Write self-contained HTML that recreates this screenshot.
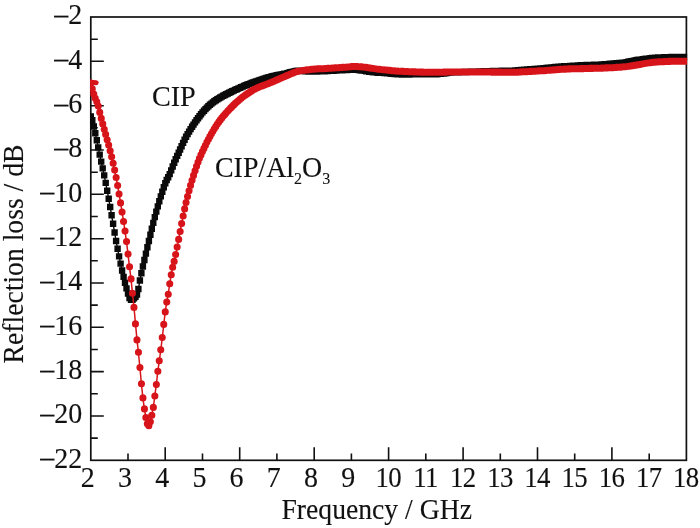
<!DOCTYPE html>
<html><head><meta charset="utf-8"><title>Reflection loss</title>
<style>
html,body{margin:0;padding:0;background:#fff;}
svg{display:block;}
text{font-family:"Liberation Serif","Times New Roman",serif;fill:#111;}
</style></head><body>
<svg width="700" height="528" viewBox="0 0 700 528">
<rect width="700" height="528" fill="#fff"/>
<clipPath id="clip"><rect x="90.05" y="17.0" width="597.1" height="443.3"/></clipPath>
<rect x="90.8" y="17.0" width="595.6" height="443.3" fill="none" stroke="#111" stroke-width="1.7"/>
<path d="M128.0,460.3v-6.7M165.2,460.3v-13M202.5,460.3v-6.7M239.7,460.3v-13M276.9,460.3v-6.7M314.2,460.3v-13M351.4,460.3v-6.7M388.6,460.3v-13M425.8,460.3v-6.7M463.1,460.3v-13M500.3,460.3v-6.7M537.5,460.3v-13M574.7,460.3v-6.7M611.9,460.3v-13M649.2,460.3v-6.7M90.8,39.2h7M90.8,61.3h13M90.8,83.5h7M90.8,105.7h13M90.8,127.8h7M90.8,150.0h13M90.8,172.2h7M90.8,194.3h13M90.8,216.5h7M90.8,238.7h13M90.8,260.8h7M90.8,283.0h13M90.8,305.1h7M90.8,327.3h13M90.8,349.5h7M90.8,371.6h13M90.8,393.8h7M90.8,416.0h13M90.8,438.1h7" fill="none" stroke="#111" stroke-width="1.6"/>
<g id="cip" clip-path="url(#clip)">
<path d="M90.8,116.4 92.3,120.3 93.8,126.5 95.3,133.2 96.8,140.2 98.2,147.4 99.7,154.6 101.2,161.6 102.7,168.4 104.2,175.4 105.7,182.9 107.2,190.7 108.7,198.8 110.2,207.0 111.6,215.3 113.1,223.7 114.6,232.5 116.1,241.0 117.6,248.8 119.1,256.4 120.6,263.6 122.1,270.5 123.6,276.9 125.0,282.9 126.5,288.4 128.0,293.6 129.5,298.0 131.0,299.7 132.5,299.7 134.0,298.4 135.5,296.8 137.0,294.6 138.4,289.0 139.9,280.5 141.4,273.2 142.9,266.5 144.4,260.0 145.9,253.6 147.4,247.3 148.9,241.0 150.4,234.8 151.8,228.8 153.3,222.9 154.8,217.1 156.3,211.6 157.8,206.4 159.3,201.3 160.8,196.4 162.3,191.7 163.8,187.3 165.2,183.3 166.7,180.0 168.2,177.2 169.7,174.1 171.2,170.4 172.7,166.5 174.2,162.7 175.7,159.2 177.2,155.9 178.7,152.8 180.1,149.5 181.6,146.2 183.1,142.9 184.6,139.8 186.1,136.8 187.6,134.1 189.1,131.6 190.6,129.1 192.1,126.8 193.5,124.6 195.0,122.4 196.5,120.3 198.0,118.2 199.5,116.2 201.0,114.2 202.5,112.4 204.0,110.7 205.5,109.1 206.9,107.6 208.4,106.2 209.9,104.8 211.4,103.6 212.9,102.4 214.4,101.3 215.9,100.3 217.4,99.3 218.9,98.4 220.3,97.5 221.8,96.6 223.3,95.8 224.8,95.0 226.3,94.2 227.8,93.5 229.3,92.7 230.8,92.0 232.3,91.3 233.7,90.6 235.2,89.9 236.7,89.2 238.2,88.6 239.7,87.9 241.2,87.2 242.7,86.6 244.2,85.9 245.7,85.3 247.1,84.7 248.6,84.1 250.1,83.6 251.6,83.0 253.1,82.5 254.6,81.9 256.1,81.4 257.6,80.9 259.1,80.4 260.5,79.9 262.0,79.4 263.5,78.9 265.0,78.4 266.5,78.0 268.0,77.5 269.5,77.1 271.0,76.7 272.5,76.3 273.9,76.0 275.4,75.6 276.9,75.3 278.4,75.0 279.9,74.7 281.4,74.4 282.9,74.1 284.4,73.8 285.9,73.6 287.3,73.1 288.8,72.7 290.3,72.3 291.8,71.9 293.3,71.6 294.8,71.3 296.3,71.0 297.8,70.8 299.3,70.7 300.7,70.7 302.2,70.9 303.7,71.1 305.2,71.3 306.7,71.4 308.2,71.5 309.7,71.5 311.2,71.6 312.7,71.6 314.2,71.6 315.6,71.5 317.1,71.5 318.6,71.4 320.1,71.4 321.6,71.3 323.1,71.3 324.6,71.2 326.1,71.1 327.6,71.0 329.0,70.9 330.5,70.8 332.0,70.7 333.5,70.7 335.0,70.6 336.5,70.5 338.0,70.4 339.5,70.4 341.0,70.3 342.4,70.2 343.9,70.1 345.4,70.0 346.9,70.0 348.4,69.9 349.9,69.7 351.4,69.6 352.9,69.6 354.4,69.7 355.8,69.8 357.3,69.9 358.8,70.1 360.3,70.3 361.8,70.5 363.3,70.6 364.8,70.9 366.3,71.2 367.8,71.4 369.2,71.7 370.7,71.9 372.2,72.1 373.7,72.3 375.2,72.4 376.7,72.5 378.2,72.7 379.7,72.8 381.2,72.8 382.6,72.9 384.1,73.0 385.6,73.1 387.1,73.2 388.6,73.4 390.1,73.5 391.6,73.7 393.1,73.9 394.6,74.0 396.0,74.1 397.5,74.2 399.0,74.3 400.5,74.4 402.0,74.5 403.5,74.6 405.0,74.6 406.5,74.6 408.0,74.5 409.4,74.5 410.9,74.4 412.4,74.4 413.9,74.3 415.4,74.3 416.9,74.3 418.4,74.3 419.9,74.3 421.4,74.3 422.8,74.3 424.3,74.3 425.8,74.4 427.3,74.4 428.8,74.4 430.3,74.4 431.8,74.3 433.3,74.3 434.8,74.3 436.2,74.2 437.7,74.1 439.2,73.9 440.7,73.8 442.2,73.6 443.7,73.5 445.2,73.3 446.7,73.0 448.2,72.8 449.6,72.6 451.1,72.5 452.6,72.4 454.1,72.3 455.6,72.3 457.1,72.2 458.6,72.2 460.1,72.1 461.6,72.1 463.1,72.1 464.5,72.0 466.0,72.0 467.5,71.9 469.0,71.9 470.5,71.8 472.0,71.8 473.5,71.7 475.0,71.7 476.5,71.6 477.9,71.6 479.4,71.5 480.9,71.5 482.4,71.4 483.9,71.3 485.4,71.3 486.9,71.2 488.4,71.2 489.9,71.1 491.3,71.1 492.8,71.0 494.3,71.0 495.8,70.9 497.3,70.9 498.8,70.9 500.3,70.9 501.8,70.8 503.3,70.8 504.7,70.8 506.2,70.8 507.7,70.8 509.2,70.8 510.7,70.7 512.2,70.7 513.7,70.6 515.2,70.5 516.7,70.4 518.1,70.3 519.6,70.2 521.1,70.0 522.6,69.9 524.1,69.7 525.6,69.6 527.1,69.5 528.6,69.4 530.1,69.3 531.5,69.2 533.0,69.1 534.5,69.0 536.0,68.9 537.5,68.7 539.0,68.6 540.5,68.5 542.0,68.4 543.5,68.3 544.9,68.1 546.4,68.0 547.9,67.8 549.4,67.7 550.9,67.5 552.4,67.4 553.9,67.2 555.4,67.0 556.9,66.9 558.3,66.8 559.8,66.6 561.3,66.5 562.8,66.4 564.3,66.3 565.8,66.2 567.3,66.1 568.8,66.1 570.3,66.0 571.7,65.9 573.2,65.8 574.7,65.7 576.2,65.6 577.7,65.5 579.2,65.4 580.7,65.3 582.2,65.2 583.7,65.1 585.1,65.1 586.6,65.0 588.1,65.0 589.6,64.9 591.1,64.9 592.6,64.9 594.1,64.8 595.6,64.8 597.1,64.7 598.5,64.6 600.0,64.6 601.5,64.5 603.0,64.4 604.5,64.3 606.0,64.2 607.5,64.1 609.0,63.9 610.5,63.8 612.0,63.7 613.4,63.5 614.9,63.4 616.4,63.3 617.9,63.2 619.4,63.0 620.9,62.9 622.4,62.7 623.9,62.6 625.4,62.4 626.8,62.1 628.3,61.8 629.8,61.5 631.3,61.2 632.8,60.9 634.3,60.6 635.8,60.3 637.3,60.0 638.8,59.8 640.2,59.6 641.7,59.4 643.2,59.2 644.7,59.0 646.2,58.8 647.7,58.6 649.2,58.4 650.7,58.2 652.2,58.0 653.6,57.9 655.1,57.7 656.6,57.6 658.1,57.5 659.6,57.5 661.1,57.4 662.6,57.4 664.1,57.3 665.6,57.2 667.0,57.2 668.5,57.1 670.0,57.1 671.5,57.0 673.0,57.0 674.5,57.0 676.0,57.0 677.5,57.0 679.0,57.0 680.4,57.0 681.9,57.0 683.4,57.0 684.9,57.0 686.4,57.0" fill="none" stroke="#0a0a0a" stroke-width="1.4"/>
<path d="M87.6,113.2h6.4v6.4h-6.4zM89.1,117.1h6.4v6.4h-6.4zM90.6,123.3h6.4v6.4h-6.4zM92.1,130.0h6.4v6.4h-6.4zM93.6,137.0h6.4v6.4h-6.4zM95.0,144.2h6.4v6.4h-6.4zM96.5,151.4h6.4v6.4h-6.4zM98.0,158.4h6.4v6.4h-6.4zM99.5,165.2h6.4v6.4h-6.4zM101.0,172.2h6.4v6.4h-6.4zM102.5,179.7h6.4v6.4h-6.4zM104.0,187.5h6.4v6.4h-6.4zM105.5,195.6h6.4v6.4h-6.4zM107.0,203.8h6.4v6.4h-6.4zM108.4,212.1h6.4v6.4h-6.4zM109.9,220.5h6.4v6.4h-6.4zM111.4,229.3h6.4v6.4h-6.4zM112.9,237.8h6.4v6.4h-6.4zM114.4,245.6h6.4v6.4h-6.4zM115.9,253.2h6.4v6.4h-6.4zM117.4,260.4h6.4v6.4h-6.4zM118.9,267.3h6.4v6.4h-6.4zM120.4,273.7h6.4v6.4h-6.4zM121.8,279.7h6.4v6.4h-6.4zM123.3,285.2h6.4v6.4h-6.4zM124.8,290.4h6.4v6.4h-6.4zM126.3,294.8h6.4v6.4h-6.4zM127.8,296.5h6.4v6.4h-6.4zM129.3,296.5h6.4v6.4h-6.4zM130.8,295.2h6.4v6.4h-6.4zM132.3,293.6h6.4v6.4h-6.4zM133.8,291.4h6.4v6.4h-6.4zM135.2,285.8h6.4v6.4h-6.4zM136.7,277.3h6.4v6.4h-6.4zM138.2,270.0h6.4v6.4h-6.4zM139.7,263.3h6.4v6.4h-6.4zM141.2,256.8h6.4v6.4h-6.4zM142.7,250.4h6.4v6.4h-6.4zM144.2,244.1h6.4v6.4h-6.4zM145.7,237.8h6.4v6.4h-6.4zM147.2,231.6h6.4v6.4h-6.4zM148.6,225.6h6.4v6.4h-6.4zM150.1,219.7h6.4v6.4h-6.4zM151.6,213.9h6.4v6.4h-6.4zM153.1,208.4h6.4v6.4h-6.4zM154.6,203.2h6.4v6.4h-6.4zM156.1,198.1h6.4v6.4h-6.4zM157.6,193.2h6.4v6.4h-6.4zM159.1,188.5h6.4v6.4h-6.4zM160.6,184.1h6.4v6.4h-6.4zM162.1,180.1h6.4v6.4h-6.4zM163.5,176.8h6.4v6.4h-6.4zM165.0,174.0h6.4v6.4h-6.4zM166.5,170.9h6.4v6.4h-6.4zM168.0,167.2h6.4v6.4h-6.4zM169.5,163.3h6.4v6.4h-6.4zM171.0,159.5h6.4v6.4h-6.4zM172.5,156.0h6.4v6.4h-6.4zM174.0,152.7h6.4v6.4h-6.4zM175.5,149.6h6.4v6.4h-6.4zM176.9,146.3h6.4v6.4h-6.4zM178.4,143.0h6.4v6.4h-6.4zM179.9,139.7h6.4v6.4h-6.4zM181.4,136.6h6.4v6.4h-6.4zM182.9,133.6h6.4v6.4h-6.4zM184.4,130.9h6.4v6.4h-6.4zM185.9,128.4h6.4v6.4h-6.4zM187.4,125.9h6.4v6.4h-6.4zM188.9,123.6h6.4v6.4h-6.4zM190.3,121.4h6.4v6.4h-6.4zM191.8,119.2h6.4v6.4h-6.4zM193.3,117.1h6.4v6.4h-6.4zM194.8,115.0h6.4v6.4h-6.4zM196.3,113.0h6.4v6.4h-6.4zM197.8,111.0h6.4v6.4h-6.4zM199.3,109.2h6.4v6.4h-6.4zM200.8,107.5h6.4v6.4h-6.4zM202.3,105.9h6.4v6.4h-6.4zM203.7,104.4h6.4v6.4h-6.4zM205.2,103.0h6.4v6.4h-6.4zM206.7,101.6h6.4v6.4h-6.4zM208.2,100.4h6.4v6.4h-6.4zM209.7,99.2h6.4v6.4h-6.4zM211.2,98.1h6.4v6.4h-6.4zM212.7,97.1h6.4v6.4h-6.4zM214.2,96.1h6.4v6.4h-6.4zM215.7,95.2h6.4v6.4h-6.4zM217.1,94.3h6.4v6.4h-6.4zM218.6,93.4h6.4v6.4h-6.4zM220.1,92.6h6.4v6.4h-6.4zM221.6,91.8h6.4v6.4h-6.4zM223.1,91.0h6.4v6.4h-6.4zM224.6,90.3h6.4v6.4h-6.4zM226.1,89.5h6.4v6.4h-6.4zM227.6,88.8h6.4v6.4h-6.4zM229.1,88.1h6.4v6.4h-6.4zM230.5,87.4h6.4v6.4h-6.4zM232.0,86.7h6.4v6.4h-6.4zM233.5,86.0h6.4v6.4h-6.4zM235.0,85.4h6.4v6.4h-6.4zM236.5,84.7h6.4v6.4h-6.4zM238.0,84.0h6.4v6.4h-6.4zM239.5,83.4h6.4v6.4h-6.4zM241.0,82.7h6.4v6.4h-6.4zM242.5,82.1h6.4v6.4h-6.4zM243.9,81.5h6.4v6.4h-6.4zM245.4,80.9h6.4v6.4h-6.4zM246.9,80.4h6.4v6.4h-6.4zM248.4,79.8h6.4v6.4h-6.4zM249.9,79.3h6.4v6.4h-6.4zM251.4,78.7h6.4v6.4h-6.4zM252.9,78.2h6.4v6.4h-6.4zM254.4,77.7h6.4v6.4h-6.4zM255.9,77.2h6.4v6.4h-6.4zM257.3,76.7h6.4v6.4h-6.4zM258.8,76.2h6.4v6.4h-6.4zM260.3,75.7h6.4v6.4h-6.4zM261.8,75.2h6.4v6.4h-6.4zM263.3,74.8h6.4v6.4h-6.4zM264.8,74.3h6.4v6.4h-6.4zM266.3,73.9h6.4v6.4h-6.4zM267.8,73.5h6.4v6.4h-6.4zM269.3,73.1h6.4v6.4h-6.4zM270.7,72.8h6.4v6.4h-6.4zM272.2,72.4h6.4v6.4h-6.4zM273.7,72.1h6.4v6.4h-6.4zM275.2,71.8h6.4v6.4h-6.4zM276.7,71.5h6.4v6.4h-6.4zM278.2,71.2h6.4v6.4h-6.4zM279.7,70.9h6.4v6.4h-6.4zM281.2,70.6h6.4v6.4h-6.4zM282.7,70.4h6.4v6.4h-6.4zM284.1,69.9h6.4v6.4h-6.4zM285.6,69.5h6.4v6.4h-6.4zM287.1,69.1h6.4v6.4h-6.4zM288.6,68.7h6.4v6.4h-6.4zM290.1,68.4h6.4v6.4h-6.4zM291.6,68.1h6.4v6.4h-6.4zM293.1,67.8h6.4v6.4h-6.4zM294.6,67.6h6.4v6.4h-6.4zM296.1,67.5h6.4v6.4h-6.4zM297.5,67.5h6.4v6.4h-6.4zM299.0,67.7h6.4v6.4h-6.4zM300.5,67.9h6.4v6.4h-6.4zM302.0,68.1h6.4v6.4h-6.4zM303.5,68.2h6.4v6.4h-6.4zM305.0,68.3h6.4v6.4h-6.4zM306.5,68.3h6.4v6.4h-6.4zM308.0,68.4h6.4v6.4h-6.4zM309.5,68.4h6.4v6.4h-6.4zM311.0,68.4h6.4v6.4h-6.4zM312.4,68.3h6.4v6.4h-6.4zM313.9,68.3h6.4v6.4h-6.4zM315.4,68.2h6.4v6.4h-6.4zM316.9,68.2h6.4v6.4h-6.4zM318.4,68.1h6.4v6.4h-6.4zM319.9,68.1h6.4v6.4h-6.4zM321.4,68.0h6.4v6.4h-6.4zM322.9,67.9h6.4v6.4h-6.4zM324.4,67.8h6.4v6.4h-6.4zM325.8,67.7h6.4v6.4h-6.4zM327.3,67.6h6.4v6.4h-6.4zM328.8,67.5h6.4v6.4h-6.4zM330.3,67.5h6.4v6.4h-6.4zM331.8,67.4h6.4v6.4h-6.4zM333.3,67.3h6.4v6.4h-6.4zM334.8,67.2h6.4v6.4h-6.4zM336.3,67.2h6.4v6.4h-6.4zM337.8,67.1h6.4v6.4h-6.4zM339.2,67.0h6.4v6.4h-6.4zM340.7,66.9h6.4v6.4h-6.4zM342.2,66.8h6.4v6.4h-6.4zM343.7,66.8h6.4v6.4h-6.4zM345.2,66.7h6.4v6.4h-6.4zM346.7,66.5h6.4v6.4h-6.4zM348.2,66.4h6.4v6.4h-6.4zM349.7,66.4h6.4v6.4h-6.4zM351.2,66.5h6.4v6.4h-6.4zM352.6,66.6h6.4v6.4h-6.4zM354.1,66.7h6.4v6.4h-6.4zM355.6,66.9h6.4v6.4h-6.4zM357.1,67.1h6.4v6.4h-6.4zM358.6,67.3h6.4v6.4h-6.4zM360.1,67.4h6.4v6.4h-6.4zM361.6,67.7h6.4v6.4h-6.4zM363.1,68.0h6.4v6.4h-6.4zM364.6,68.2h6.4v6.4h-6.4zM366.0,68.5h6.4v6.4h-6.4zM367.5,68.7h6.4v6.4h-6.4zM369.0,68.9h6.4v6.4h-6.4zM370.5,69.1h6.4v6.4h-6.4zM372.0,69.2h6.4v6.4h-6.4zM373.5,69.3h6.4v6.4h-6.4zM375.0,69.5h6.4v6.4h-6.4zM376.5,69.6h6.4v6.4h-6.4zM378.0,69.6h6.4v6.4h-6.4zM379.4,69.7h6.4v6.4h-6.4zM380.9,69.8h6.4v6.4h-6.4zM382.4,69.9h6.4v6.4h-6.4zM383.9,70.0h6.4v6.4h-6.4zM385.4,70.2h6.4v6.4h-6.4zM386.9,70.3h6.4v6.4h-6.4zM388.4,70.5h6.4v6.4h-6.4zM389.9,70.7h6.4v6.4h-6.4zM391.4,70.8h6.4v6.4h-6.4zM392.8,70.9h6.4v6.4h-6.4zM394.3,71.0h6.4v6.4h-6.4zM395.8,71.1h6.4v6.4h-6.4zM397.3,71.2h6.4v6.4h-6.4zM398.8,71.3h6.4v6.4h-6.4zM400.3,71.4h6.4v6.4h-6.4zM401.8,71.4h6.4v6.4h-6.4zM403.3,71.4h6.4v6.4h-6.4zM404.8,71.3h6.4v6.4h-6.4zM406.2,71.3h6.4v6.4h-6.4zM407.7,71.2h6.4v6.4h-6.4zM409.2,71.2h6.4v6.4h-6.4zM410.7,71.1h6.4v6.4h-6.4zM412.2,71.1h6.4v6.4h-6.4zM413.7,71.1h6.4v6.4h-6.4zM415.2,71.1h6.4v6.4h-6.4zM416.7,71.1h6.4v6.4h-6.4zM418.2,71.1h6.4v6.4h-6.4zM419.6,71.1h6.4v6.4h-6.4zM421.1,71.1h6.4v6.4h-6.4zM422.6,71.2h6.4v6.4h-6.4zM424.1,71.2h6.4v6.4h-6.4zM425.6,71.2h6.4v6.4h-6.4zM427.1,71.2h6.4v6.4h-6.4zM428.6,71.1h6.4v6.4h-6.4zM430.1,71.1h6.4v6.4h-6.4zM431.6,71.1h6.4v6.4h-6.4zM433.0,71.0h6.4v6.4h-6.4zM434.5,70.9h6.4v6.4h-6.4zM436.0,70.7h6.4v6.4h-6.4zM437.5,70.6h6.4v6.4h-6.4zM439.0,70.4h6.4v6.4h-6.4zM440.5,70.3h6.4v6.4h-6.4zM442.0,70.1h6.4v6.4h-6.4zM443.5,69.8h6.4v6.4h-6.4zM445.0,69.6h6.4v6.4h-6.4zM446.4,69.4h6.4v6.4h-6.4zM447.9,69.3h6.4v6.4h-6.4zM449.4,69.2h6.4v6.4h-6.4zM450.9,69.1h6.4v6.4h-6.4zM452.4,69.1h6.4v6.4h-6.4zM453.9,69.0h6.4v6.4h-6.4zM455.4,69.0h6.4v6.4h-6.4zM456.9,68.9h6.4v6.4h-6.4zM458.4,68.9h6.4v6.4h-6.4zM459.9,68.9h6.4v6.4h-6.4zM461.3,68.8h6.4v6.4h-6.4zM462.8,68.8h6.4v6.4h-6.4zM464.3,68.7h6.4v6.4h-6.4zM465.8,68.7h6.4v6.4h-6.4zM467.3,68.6h6.4v6.4h-6.4zM468.8,68.6h6.4v6.4h-6.4zM470.3,68.5h6.4v6.4h-6.4zM471.8,68.5h6.4v6.4h-6.4zM473.3,68.4h6.4v6.4h-6.4zM474.7,68.4h6.4v6.4h-6.4zM476.2,68.3h6.4v6.4h-6.4zM477.7,68.3h6.4v6.4h-6.4zM479.2,68.2h6.4v6.4h-6.4zM480.7,68.1h6.4v6.4h-6.4zM482.2,68.1h6.4v6.4h-6.4zM483.7,68.0h6.4v6.4h-6.4zM485.2,68.0h6.4v6.4h-6.4zM486.7,67.9h6.4v6.4h-6.4zM488.1,67.9h6.4v6.4h-6.4zM489.6,67.8h6.4v6.4h-6.4zM491.1,67.8h6.4v6.4h-6.4zM492.6,67.7h6.4v6.4h-6.4zM494.1,67.7h6.4v6.4h-6.4zM495.6,67.7h6.4v6.4h-6.4zM497.1,67.7h6.4v6.4h-6.4zM498.6,67.6h6.4v6.4h-6.4zM500.1,67.6h6.4v6.4h-6.4zM501.5,67.6h6.4v6.4h-6.4zM503.0,67.6h6.4v6.4h-6.4zM504.5,67.6h6.4v6.4h-6.4zM506.0,67.6h6.4v6.4h-6.4zM507.5,67.5h6.4v6.4h-6.4zM509.0,67.5h6.4v6.4h-6.4zM510.5,67.4h6.4v6.4h-6.4zM512.0,67.3h6.4v6.4h-6.4zM513.5,67.2h6.4v6.4h-6.4zM514.9,67.1h6.4v6.4h-6.4zM516.4,67.0h6.4v6.4h-6.4zM517.9,66.8h6.4v6.4h-6.4zM519.4,66.7h6.4v6.4h-6.4zM520.9,66.5h6.4v6.4h-6.4zM522.4,66.4h6.4v6.4h-6.4zM523.9,66.3h6.4v6.4h-6.4zM525.4,66.2h6.4v6.4h-6.4zM526.9,66.1h6.4v6.4h-6.4zM528.3,66.0h6.4v6.4h-6.4zM529.8,65.9h6.4v6.4h-6.4zM531.3,65.8h6.4v6.4h-6.4zM532.8,65.7h6.4v6.4h-6.4zM534.3,65.5h6.4v6.4h-6.4zM535.8,65.4h6.4v6.4h-6.4zM537.3,65.3h6.4v6.4h-6.4zM538.8,65.2h6.4v6.4h-6.4zM540.3,65.1h6.4v6.4h-6.4zM541.7,64.9h6.4v6.4h-6.4zM543.2,64.8h6.4v6.4h-6.4zM544.7,64.6h6.4v6.4h-6.4zM546.2,64.5h6.4v6.4h-6.4zM547.7,64.3h6.4v6.4h-6.4zM549.2,64.2h6.4v6.4h-6.4zM550.7,64.0h6.4v6.4h-6.4zM552.2,63.8h6.4v6.4h-6.4zM553.7,63.7h6.4v6.4h-6.4zM555.1,63.6h6.4v6.4h-6.4zM556.6,63.4h6.4v6.4h-6.4zM558.1,63.3h6.4v6.4h-6.4zM559.6,63.2h6.4v6.4h-6.4zM561.1,63.1h6.4v6.4h-6.4zM562.6,63.0h6.4v6.4h-6.4zM564.1,62.9h6.4v6.4h-6.4zM565.6,62.9h6.4v6.4h-6.4zM567.1,62.8h6.4v6.4h-6.4zM568.5,62.7h6.4v6.4h-6.4zM570.0,62.6h6.4v6.4h-6.4zM571.5,62.5h6.4v6.4h-6.4zM573.0,62.4h6.4v6.4h-6.4zM574.5,62.3h6.4v6.4h-6.4zM576.0,62.2h6.4v6.4h-6.4zM577.5,62.1h6.4v6.4h-6.4zM579.0,62.0h6.4v6.4h-6.4zM580.5,61.9h6.4v6.4h-6.4zM581.9,61.9h6.4v6.4h-6.4zM583.4,61.8h6.4v6.4h-6.4zM584.9,61.8h6.4v6.4h-6.4zM586.4,61.7h6.4v6.4h-6.4zM587.9,61.7h6.4v6.4h-6.4zM589.4,61.7h6.4v6.4h-6.4zM590.9,61.6h6.4v6.4h-6.4zM592.4,61.6h6.4v6.4h-6.4zM593.9,61.5h6.4v6.4h-6.4zM595.3,61.4h6.4v6.4h-6.4zM596.8,61.4h6.4v6.4h-6.4zM598.3,61.3h6.4v6.4h-6.4zM599.8,61.2h6.4v6.4h-6.4zM601.3,61.1h6.4v6.4h-6.4zM602.8,61.0h6.4v6.4h-6.4zM604.3,60.9h6.4v6.4h-6.4zM605.8,60.7h6.4v6.4h-6.4zM607.3,60.6h6.4v6.4h-6.4zM608.8,60.5h6.4v6.4h-6.4zM610.2,60.3h6.4v6.4h-6.4zM611.7,60.2h6.4v6.4h-6.4zM613.2,60.1h6.4v6.4h-6.4zM614.7,60.0h6.4v6.4h-6.4zM616.2,59.8h6.4v6.4h-6.4zM617.7,59.7h6.4v6.4h-6.4zM619.2,59.5h6.4v6.4h-6.4zM620.7,59.4h6.4v6.4h-6.4zM622.2,59.2h6.4v6.4h-6.4zM623.6,58.9h6.4v6.4h-6.4zM625.1,58.6h6.4v6.4h-6.4zM626.6,58.3h6.4v6.4h-6.4zM628.1,58.0h6.4v6.4h-6.4zM629.6,57.7h6.4v6.4h-6.4zM631.1,57.4h6.4v6.4h-6.4zM632.6,57.1h6.4v6.4h-6.4zM634.1,56.8h6.4v6.4h-6.4zM635.6,56.6h6.4v6.4h-6.4zM637.0,56.4h6.4v6.4h-6.4zM638.5,56.2h6.4v6.4h-6.4zM640.0,56.0h6.4v6.4h-6.4zM641.5,55.8h6.4v6.4h-6.4zM643.0,55.6h6.4v6.4h-6.4zM644.5,55.4h6.4v6.4h-6.4zM646.0,55.2h6.4v6.4h-6.4zM647.5,55.0h6.4v6.4h-6.4zM649.0,54.8h6.4v6.4h-6.4zM650.4,54.7h6.4v6.4h-6.4zM651.9,54.5h6.4v6.4h-6.4zM653.4,54.4h6.4v6.4h-6.4zM654.9,54.3h6.4v6.4h-6.4zM656.4,54.3h6.4v6.4h-6.4zM657.9,54.2h6.4v6.4h-6.4zM659.4,54.2h6.4v6.4h-6.4zM660.9,54.1h6.4v6.4h-6.4zM662.4,54.0h6.4v6.4h-6.4zM663.8,54.0h6.4v6.4h-6.4zM665.3,53.9h6.4v6.4h-6.4zM666.8,53.9h6.4v6.4h-6.4zM668.3,53.8h6.4v6.4h-6.4zM669.8,53.8h6.4v6.4h-6.4zM671.3,53.8h6.4v6.4h-6.4zM672.8,53.8h6.4v6.4h-6.4zM674.3,53.8h6.4v6.4h-6.4zM675.8,53.8h6.4v6.4h-6.4zM677.2,53.8h6.4v6.4h-6.4zM678.7,53.8h6.4v6.4h-6.4zM680.2,53.8h6.4v6.4h-6.4zM681.7,53.8h6.4v6.4h-6.4zM683.2,53.8h6.4v6.4h-6.4z" fill="#0a0a0a"/>
</g>
<g id="cipal" clip-path="url(#clip)">
<path d="M90.8,83.0 92.3,88.9 93.8,94.1 95.3,98.3 96.8,101.8 98.2,106.0 99.7,112.4 101.2,118.4 102.7,123.9 104.2,129.2 105.7,134.4 107.2,139.7 108.7,145.0 110.2,150.7 111.6,156.7 113.1,163.2 114.6,170.1 116.1,177.5 117.6,185.5 119.1,194.0 120.6,202.9 122.1,212.1 123.6,221.5 125.0,231.1 126.5,241.6 128.0,254.1 129.5,266.8 131.0,278.9 132.5,293.3 134.0,307.4 135.5,323.9 137.0,339.9 138.4,352.3 139.9,367.5 141.4,383.7 142.9,397.9 144.4,408.9 145.9,417.5 147.4,423.7 148.9,425.8 150.4,421.8 151.8,415.2 153.3,407.4 154.8,396.0 156.3,384.6 157.8,371.3 159.3,360.8 160.8,349.8 162.3,337.5 163.8,324.4 165.2,311.9 166.7,302.1 168.2,294.2 169.7,283.8 171.2,274.7 172.7,267.3 174.2,261.4 175.7,254.5 177.2,247.1 178.7,239.4 180.1,231.5 181.6,223.6 183.1,216.0 184.6,208.9 186.1,202.5 187.6,196.5 189.1,190.8 190.6,185.4 192.1,180.3 193.5,175.4 195.0,170.7 196.5,166.2 198.0,162.1 199.5,158.3 201.0,154.9 202.5,151.6 204.0,148.4 205.5,145.2 206.9,142.1 208.4,139.2 209.9,136.4 211.4,133.7 212.9,131.2 214.4,128.7 215.9,126.4 217.4,124.1 218.9,121.9 220.3,119.9 221.8,117.9 223.3,116.1 224.8,114.4 226.3,112.7 227.8,111.1 229.3,109.5 230.8,107.9 232.3,106.4 233.7,104.9 235.2,103.4 236.7,102.0 238.2,100.7 239.7,99.5 241.2,98.3 242.7,97.1 244.2,96.0 245.7,94.9 247.1,93.9 248.6,92.9 250.1,91.9 251.6,90.9 253.1,90.0 254.6,89.2 256.1,88.5 257.6,87.8 259.1,87.1 260.5,86.5 262.0,85.9 263.5,85.4 265.0,84.8 266.5,84.2 268.0,83.7 269.5,83.1 271.0,82.5 272.5,81.9 273.9,81.2 275.4,80.6 276.9,79.9 278.4,79.3 279.9,78.6 281.4,78.0 282.9,77.3 284.4,76.7 285.9,76.0 287.3,75.4 288.8,74.7 290.3,74.1 291.8,73.5 293.3,72.9 294.8,72.3 296.3,71.8 297.8,71.4 299.3,71.1 300.7,70.8 302.2,70.5 303.7,70.3 305.2,70.1 306.7,69.9 308.2,69.8 309.7,69.6 311.2,69.4 312.7,69.3 314.2,69.1 315.6,69.0 317.1,68.9 318.6,68.8 320.1,68.8 321.6,68.7 323.1,68.7 324.6,68.6 326.1,68.5 327.6,68.4 329.0,68.3 330.5,68.2 332.0,68.1 333.5,68.0 335.0,67.9 336.5,67.8 338.0,67.7 339.5,67.6 341.0,67.5 342.4,67.4 343.9,67.3 345.4,67.2 346.9,67.1 348.4,67.0 349.9,66.8 351.4,66.6 352.9,66.5 354.4,66.5 355.8,66.5 357.3,66.6 358.8,66.7 360.3,66.8 361.8,66.9 363.3,67.0 364.8,67.2 366.3,67.4 367.8,67.6 369.2,67.9 370.7,68.1 372.2,68.3 373.7,68.5 375.2,68.8 376.7,69.0 378.2,69.2 379.7,69.3 381.2,69.5 382.6,69.7 384.1,69.8 385.6,70.0 387.1,70.1 388.6,70.3 390.1,70.4 391.6,70.6 393.1,70.7 394.6,70.9 396.0,71.0 397.5,71.1 399.0,71.2 400.5,71.2 402.0,71.3 403.5,71.4 405.0,71.5 406.5,71.5 408.0,71.6 409.4,71.7 410.9,71.8 412.4,71.8 413.9,71.9 415.4,71.9 416.9,72.0 418.4,72.0 419.9,72.1 421.4,72.1 422.8,72.1 424.3,72.2 425.8,72.2 427.3,72.2 428.8,72.3 430.3,72.3 431.8,72.3 433.3,72.3 434.8,72.3 436.2,72.3 437.7,72.3 439.2,72.2 440.7,72.2 442.2,72.2 443.7,72.1 445.2,72.1 446.7,72.1 448.2,72.0 449.6,72.0 451.1,72.0 452.6,72.0 454.1,72.0 455.6,72.0 457.1,72.0 458.6,72.0 460.1,72.0 461.6,72.0 463.1,72.0 464.5,72.0 466.0,72.0 467.5,72.0 469.0,72.0 470.5,72.0 472.0,72.0 473.5,72.0 475.0,72.0 476.5,72.0 477.9,72.0 479.4,72.0 480.9,72.0 482.4,72.0 483.9,72.0 485.4,72.0 486.9,72.0 488.4,72.0 489.9,72.0 491.3,72.1 492.8,72.1 494.3,72.1 495.8,72.1 497.3,72.1 498.8,72.1 500.3,72.1 501.8,72.2 503.3,72.2 504.7,72.2 506.2,72.2 507.7,72.2 509.2,72.2 510.7,72.2 512.2,72.2 513.7,72.2 515.2,72.2 516.7,72.2 518.1,72.1 519.6,72.0 521.1,71.9 522.6,71.8 524.1,71.8 525.6,71.7 527.1,71.6 528.6,71.5 530.1,71.4 531.5,71.4 533.0,71.3 534.5,71.2 536.0,71.1 537.5,71.0 539.0,70.9 540.5,70.8 542.0,70.8 543.5,70.7 544.9,70.6 546.4,70.5 547.9,70.3 549.4,70.2 550.9,70.1 552.4,70.0 553.9,69.9 555.4,69.7 556.9,69.6 558.3,69.5 559.8,69.4 561.3,69.3 562.8,69.2 564.3,69.1 565.8,69.1 567.3,69.0 568.8,68.9 570.3,68.9 571.7,68.8 573.2,68.8 574.7,68.8 576.2,68.7 577.7,68.7 579.2,68.7 580.7,68.6 582.2,68.6 583.7,68.6 585.1,68.5 586.6,68.5 588.1,68.5 589.6,68.4 591.1,68.4 592.6,68.4 594.1,68.3 595.6,68.3 597.1,68.3 598.5,68.2 600.0,68.2 601.5,68.1 603.0,68.1 604.5,68.0 606.0,67.9 607.5,67.9 609.0,67.8 610.5,67.7 612.0,67.7 613.4,67.6 614.9,67.5 616.4,67.4 617.9,67.3 619.4,67.2 620.9,67.1 622.4,67.0 623.9,66.8 625.4,66.7 626.8,66.5 628.3,66.3 629.8,66.1 631.3,65.9 632.8,65.7 634.3,65.4 635.8,65.2 637.3,64.9 638.8,64.7 640.2,64.4 641.7,64.1 643.2,63.8 644.7,63.5 646.2,63.2 647.7,63.0 649.2,62.8 650.7,62.6 652.2,62.4 653.6,62.3 655.1,62.1 656.6,62.0 658.1,61.9 659.6,61.8 661.1,61.8 662.6,61.7 664.1,61.6 665.6,61.5 667.0,61.5 668.5,61.4 670.0,61.4 671.5,61.3 673.0,61.3 674.5,61.3 676.0,61.3 677.5,61.3 679.0,61.3 680.4,61.3 681.9,61.3 683.4,61.3 684.9,61.3 686.4,61.3" fill="none" stroke="#d7141a" stroke-width="1.5" stroke-linejoin="round"/>
<path d="M87.2,83.0a3.55,3.55 0 1,0 7.1,0a3.55,3.55 0 1,0 -7.1,0zM88.7,88.9a3.55,3.55 0 1,0 7.1,0a3.55,3.55 0 1,0 -7.1,0zM90.2,94.1a3.55,3.55 0 1,0 7.1,0a3.55,3.55 0 1,0 -7.1,0zM91.7,98.3a3.55,3.55 0 1,0 7.1,0a3.55,3.55 0 1,0 -7.1,0zM93.2,101.8a3.55,3.55 0 1,0 7.1,0a3.55,3.55 0 1,0 -7.1,0zM94.7,106.0a3.55,3.55 0 1,0 7.1,0a3.55,3.55 0 1,0 -7.1,0zM96.2,112.4a3.55,3.55 0 1,0 7.1,0a3.55,3.55 0 1,0 -7.1,0zM97.7,118.4a3.55,3.55 0 1,0 7.1,0a3.55,3.55 0 1,0 -7.1,0zM99.2,123.9a3.55,3.55 0 1,0 7.1,0a3.55,3.55 0 1,0 -7.1,0zM100.7,129.2a3.55,3.55 0 1,0 7.1,0a3.55,3.55 0 1,0 -7.1,0zM102.1,134.4a3.55,3.55 0 1,0 7.1,0a3.55,3.55 0 1,0 -7.1,0zM103.6,139.7a3.55,3.55 0 1,0 7.1,0a3.55,3.55 0 1,0 -7.1,0zM105.1,145.0a3.55,3.55 0 1,0 7.1,0a3.55,3.55 0 1,0 -7.1,0zM106.6,150.7a3.55,3.55 0 1,0 7.1,0a3.55,3.55 0 1,0 -7.1,0zM108.1,156.7a3.55,3.55 0 1,0 7.1,0a3.55,3.55 0 1,0 -7.1,0zM109.6,163.2a3.55,3.55 0 1,0 7.1,0a3.55,3.55 0 1,0 -7.1,0zM111.1,170.1a3.55,3.55 0 1,0 7.1,0a3.55,3.55 0 1,0 -7.1,0zM112.6,177.5a3.55,3.55 0 1,0 7.1,0a3.55,3.55 0 1,0 -7.1,0zM114.1,185.5a3.55,3.55 0 1,0 7.1,0a3.55,3.55 0 1,0 -7.1,0zM115.5,194.0a3.55,3.55 0 1,0 7.1,0a3.55,3.55 0 1,0 -7.1,0zM117.0,202.9a3.55,3.55 0 1,0 7.1,0a3.55,3.55 0 1,0 -7.1,0zM118.5,212.1a3.55,3.55 0 1,0 7.1,0a3.55,3.55 0 1,0 -7.1,0zM120.0,221.5a3.55,3.55 0 1,0 7.1,0a3.55,3.55 0 1,0 -7.1,0zM121.5,231.1a3.55,3.55 0 1,0 7.1,0a3.55,3.55 0 1,0 -7.1,0zM123.0,241.6a3.55,3.55 0 1,0 7.1,0a3.55,3.55 0 1,0 -7.1,0zM124.5,254.1a3.55,3.55 0 1,0 7.1,0a3.55,3.55 0 1,0 -7.1,0zM126.0,266.8a3.55,3.55 0 1,0 7.1,0a3.55,3.55 0 1,0 -7.1,0zM127.5,278.9a3.55,3.55 0 1,0 7.1,0a3.55,3.55 0 1,0 -7.1,0zM128.9,293.3a3.55,3.55 0 1,0 7.1,0a3.55,3.55 0 1,0 -7.1,0zM130.4,307.4a3.55,3.55 0 1,0 7.1,0a3.55,3.55 0 1,0 -7.1,0zM131.9,323.9a3.55,3.55 0 1,0 7.1,0a3.55,3.55 0 1,0 -7.1,0zM133.4,339.9a3.55,3.55 0 1,0 7.1,0a3.55,3.55 0 1,0 -7.1,0zM134.9,352.3a3.55,3.55 0 1,0 7.1,0a3.55,3.55 0 1,0 -7.1,0zM136.4,367.5a3.55,3.55 0 1,0 7.1,0a3.55,3.55 0 1,0 -7.1,0zM137.9,383.7a3.55,3.55 0 1,0 7.1,0a3.55,3.55 0 1,0 -7.1,0zM139.4,397.9a3.55,3.55 0 1,0 7.1,0a3.55,3.55 0 1,0 -7.1,0zM140.9,408.9a3.55,3.55 0 1,0 7.1,0a3.55,3.55 0 1,0 -7.1,0zM142.3,417.5a3.55,3.55 0 1,0 7.1,0a3.55,3.55 0 1,0 -7.1,0zM143.8,423.7a3.55,3.55 0 1,0 7.1,0a3.55,3.55 0 1,0 -7.1,0zM145.3,425.8a3.55,3.55 0 1,0 7.1,0a3.55,3.55 0 1,0 -7.1,0zM146.8,421.8a3.55,3.55 0 1,0 7.1,0a3.55,3.55 0 1,0 -7.1,0zM148.3,415.2a3.55,3.55 0 1,0 7.1,0a3.55,3.55 0 1,0 -7.1,0zM149.8,407.4a3.55,3.55 0 1,0 7.1,0a3.55,3.55 0 1,0 -7.1,0zM151.3,396.0a3.55,3.55 0 1,0 7.1,0a3.55,3.55 0 1,0 -7.1,0zM152.8,384.6a3.55,3.55 0 1,0 7.1,0a3.55,3.55 0 1,0 -7.1,0zM154.3,371.3a3.55,3.55 0 1,0 7.1,0a3.55,3.55 0 1,0 -7.1,0zM155.7,360.8a3.55,3.55 0 1,0 7.1,0a3.55,3.55 0 1,0 -7.1,0zM157.2,349.8a3.55,3.55 0 1,0 7.1,0a3.55,3.55 0 1,0 -7.1,0zM158.7,337.5a3.55,3.55 0 1,0 7.1,0a3.55,3.55 0 1,0 -7.1,0zM160.2,324.4a3.55,3.55 0 1,0 7.1,0a3.55,3.55 0 1,0 -7.1,0zM161.7,311.9a3.55,3.55 0 1,0 7.1,0a3.55,3.55 0 1,0 -7.1,0zM163.2,302.1a3.55,3.55 0 1,0 7.1,0a3.55,3.55 0 1,0 -7.1,0zM164.7,294.2a3.55,3.55 0 1,0 7.1,0a3.55,3.55 0 1,0 -7.1,0zM166.2,283.8a3.55,3.55 0 1,0 7.1,0a3.55,3.55 0 1,0 -7.1,0zM167.7,274.7a3.55,3.55 0 1,0 7.1,0a3.55,3.55 0 1,0 -7.1,0zM169.1,267.3a3.55,3.55 0 1,0 7.1,0a3.55,3.55 0 1,0 -7.1,0zM170.6,261.4a3.55,3.55 0 1,0 7.1,0a3.55,3.55 0 1,0 -7.1,0zM172.1,254.5a3.55,3.55 0 1,0 7.1,0a3.55,3.55 0 1,0 -7.1,0zM173.6,247.1a3.55,3.55 0 1,0 7.1,0a3.55,3.55 0 1,0 -7.1,0zM175.1,239.4a3.55,3.55 0 1,0 7.1,0a3.55,3.55 0 1,0 -7.1,0zM176.6,231.5a3.55,3.55 0 1,0 7.1,0a3.55,3.55 0 1,0 -7.1,0zM178.1,223.6a3.55,3.55 0 1,0 7.1,0a3.55,3.55 0 1,0 -7.1,0zM179.6,216.0a3.55,3.55 0 1,0 7.1,0a3.55,3.55 0 1,0 -7.1,0zM181.1,208.9a3.55,3.55 0 1,0 7.1,0a3.55,3.55 0 1,0 -7.1,0zM182.5,202.5a3.55,3.55 0 1,0 7.1,0a3.55,3.55 0 1,0 -7.1,0zM184.0,196.5a3.55,3.55 0 1,0 7.1,0a3.55,3.55 0 1,0 -7.1,0zM185.5,190.8a3.55,3.55 0 1,0 7.1,0a3.55,3.55 0 1,0 -7.1,0zM187.0,185.4a3.55,3.55 0 1,0 7.1,0a3.55,3.55 0 1,0 -7.1,0zM188.5,180.3a3.55,3.55 0 1,0 7.1,0a3.55,3.55 0 1,0 -7.1,0zM190.0,175.4a3.55,3.55 0 1,0 7.1,0a3.55,3.55 0 1,0 -7.1,0zM191.5,170.7a3.55,3.55 0 1,0 7.1,0a3.55,3.55 0 1,0 -7.1,0zM193.0,166.2a3.55,3.55 0 1,0 7.1,0a3.55,3.55 0 1,0 -7.1,0zM194.5,162.1a3.55,3.55 0 1,0 7.1,0a3.55,3.55 0 1,0 -7.1,0zM195.9,158.3a3.55,3.55 0 1,0 7.1,0a3.55,3.55 0 1,0 -7.1,0zM197.4,154.9a3.55,3.55 0 1,0 7.1,0a3.55,3.55 0 1,0 -7.1,0zM198.9,151.6a3.55,3.55 0 1,0 7.1,0a3.55,3.55 0 1,0 -7.1,0zM200.4,148.4a3.55,3.55 0 1,0 7.1,0a3.55,3.55 0 1,0 -7.1,0zM201.9,145.2a3.55,3.55 0 1,0 7.1,0a3.55,3.55 0 1,0 -7.1,0zM203.4,142.1a3.55,3.55 0 1,0 7.1,0a3.55,3.55 0 1,0 -7.1,0zM204.9,139.2a3.55,3.55 0 1,0 7.1,0a3.55,3.55 0 1,0 -7.1,0zM206.4,136.4a3.55,3.55 0 1,0 7.1,0a3.55,3.55 0 1,0 -7.1,0zM207.9,133.7a3.55,3.55 0 1,0 7.1,0a3.55,3.55 0 1,0 -7.1,0zM209.3,131.2a3.55,3.55 0 1,0 7.1,0a3.55,3.55 0 1,0 -7.1,0zM210.8,128.7a3.55,3.55 0 1,0 7.1,0a3.55,3.55 0 1,0 -7.1,0zM212.3,126.4a3.55,3.55 0 1,0 7.1,0a3.55,3.55 0 1,0 -7.1,0zM213.8,124.1a3.55,3.55 0 1,0 7.1,0a3.55,3.55 0 1,0 -7.1,0zM215.3,121.9a3.55,3.55 0 1,0 7.1,0a3.55,3.55 0 1,0 -7.1,0zM216.8,119.9a3.55,3.55 0 1,0 7.1,0a3.55,3.55 0 1,0 -7.1,0zM218.3,117.9a3.55,3.55 0 1,0 7.1,0a3.55,3.55 0 1,0 -7.1,0zM219.8,116.1a3.55,3.55 0 1,0 7.1,0a3.55,3.55 0 1,0 -7.1,0zM221.3,114.4a3.55,3.55 0 1,0 7.1,0a3.55,3.55 0 1,0 -7.1,0zM222.7,112.7a3.55,3.55 0 1,0 7.1,0a3.55,3.55 0 1,0 -7.1,0zM224.2,111.1a3.55,3.55 0 1,0 7.1,0a3.55,3.55 0 1,0 -7.1,0zM225.7,109.5a3.55,3.55 0 1,0 7.1,0a3.55,3.55 0 1,0 -7.1,0zM227.2,107.9a3.55,3.55 0 1,0 7.1,0a3.55,3.55 0 1,0 -7.1,0zM228.7,106.4a3.55,3.55 0 1,0 7.1,0a3.55,3.55 0 1,0 -7.1,0zM230.2,104.9a3.55,3.55 0 1,0 7.1,0a3.55,3.55 0 1,0 -7.1,0zM231.7,103.4a3.55,3.55 0 1,0 7.1,0a3.55,3.55 0 1,0 -7.1,0zM233.2,102.0a3.55,3.55 0 1,0 7.1,0a3.55,3.55 0 1,0 -7.1,0zM234.7,100.7a3.55,3.55 0 1,0 7.1,0a3.55,3.55 0 1,0 -7.1,0zM236.1,99.5a3.55,3.55 0 1,0 7.1,0a3.55,3.55 0 1,0 -7.1,0zM237.6,98.3a3.55,3.55 0 1,0 7.1,0a3.55,3.55 0 1,0 -7.1,0zM239.1,97.1a3.55,3.55 0 1,0 7.1,0a3.55,3.55 0 1,0 -7.1,0zM240.6,96.0a3.55,3.55 0 1,0 7.1,0a3.55,3.55 0 1,0 -7.1,0zM242.1,94.9a3.55,3.55 0 1,0 7.1,0a3.55,3.55 0 1,0 -7.1,0zM243.6,93.9a3.55,3.55 0 1,0 7.1,0a3.55,3.55 0 1,0 -7.1,0zM245.1,92.9a3.55,3.55 0 1,0 7.1,0a3.55,3.55 0 1,0 -7.1,0zM246.6,91.9a3.55,3.55 0 1,0 7.1,0a3.55,3.55 0 1,0 -7.1,0zM248.1,90.9a3.55,3.55 0 1,0 7.1,0a3.55,3.55 0 1,0 -7.1,0zM249.6,90.0a3.55,3.55 0 1,0 7.1,0a3.55,3.55 0 1,0 -7.1,0zM251.0,89.2a3.55,3.55 0 1,0 7.1,0a3.55,3.55 0 1,0 -7.1,0zM252.5,88.5a3.55,3.55 0 1,0 7.1,0a3.55,3.55 0 1,0 -7.1,0zM254.0,87.8a3.55,3.55 0 1,0 7.1,0a3.55,3.55 0 1,0 -7.1,0zM255.5,87.1a3.55,3.55 0 1,0 7.1,0a3.55,3.55 0 1,0 -7.1,0zM257.0,86.5a3.55,3.55 0 1,0 7.1,0a3.55,3.55 0 1,0 -7.1,0zM258.5,85.9a3.55,3.55 0 1,0 7.1,0a3.55,3.55 0 1,0 -7.1,0zM260.0,85.4a3.55,3.55 0 1,0 7.1,0a3.55,3.55 0 1,0 -7.1,0zM261.5,84.8a3.55,3.55 0 1,0 7.1,0a3.55,3.55 0 1,0 -7.1,0zM263.0,84.2a3.55,3.55 0 1,0 7.1,0a3.55,3.55 0 1,0 -7.1,0zM264.4,83.7a3.55,3.55 0 1,0 7.1,0a3.55,3.55 0 1,0 -7.1,0zM265.9,83.1a3.55,3.55 0 1,0 7.1,0a3.55,3.55 0 1,0 -7.1,0zM267.4,82.5a3.55,3.55 0 1,0 7.1,0a3.55,3.55 0 1,0 -7.1,0zM268.9,81.9a3.55,3.55 0 1,0 7.1,0a3.55,3.55 0 1,0 -7.1,0zM270.4,81.2a3.55,3.55 0 1,0 7.1,0a3.55,3.55 0 1,0 -7.1,0zM271.9,80.6a3.55,3.55 0 1,0 7.1,0a3.55,3.55 0 1,0 -7.1,0zM273.4,79.9a3.55,3.55 0 1,0 7.1,0a3.55,3.55 0 1,0 -7.1,0zM274.9,79.3a3.55,3.55 0 1,0 7.1,0a3.55,3.55 0 1,0 -7.1,0zM276.4,78.6a3.55,3.55 0 1,0 7.1,0a3.55,3.55 0 1,0 -7.1,0zM277.8,78.0a3.55,3.55 0 1,0 7.1,0a3.55,3.55 0 1,0 -7.1,0zM279.3,77.3a3.55,3.55 0 1,0 7.1,0a3.55,3.55 0 1,0 -7.1,0zM280.8,76.7a3.55,3.55 0 1,0 7.1,0a3.55,3.55 0 1,0 -7.1,0zM282.3,76.0a3.55,3.55 0 1,0 7.1,0a3.55,3.55 0 1,0 -7.1,0zM283.8,75.4a3.55,3.55 0 1,0 7.1,0a3.55,3.55 0 1,0 -7.1,0zM285.3,74.7a3.55,3.55 0 1,0 7.1,0a3.55,3.55 0 1,0 -7.1,0zM286.8,74.1a3.55,3.55 0 1,0 7.1,0a3.55,3.55 0 1,0 -7.1,0zM288.3,73.5a3.55,3.55 0 1,0 7.1,0a3.55,3.55 0 1,0 -7.1,0zM289.8,72.9a3.55,3.55 0 1,0 7.1,0a3.55,3.55 0 1,0 -7.1,0zM291.2,72.3a3.55,3.55 0 1,0 7.1,0a3.55,3.55 0 1,0 -7.1,0zM292.7,71.8a3.55,3.55 0 1,0 7.1,0a3.55,3.55 0 1,0 -7.1,0zM294.2,71.4a3.55,3.55 0 1,0 7.1,0a3.55,3.55 0 1,0 -7.1,0zM295.7,71.1a3.55,3.55 0 1,0 7.1,0a3.55,3.55 0 1,0 -7.1,0zM297.2,70.8a3.55,3.55 0 1,0 7.1,0a3.55,3.55 0 1,0 -7.1,0zM298.7,70.5a3.55,3.55 0 1,0 7.1,0a3.55,3.55 0 1,0 -7.1,0zM300.2,70.3a3.55,3.55 0 1,0 7.1,0a3.55,3.55 0 1,0 -7.1,0zM301.7,70.1a3.55,3.55 0 1,0 7.1,0a3.55,3.55 0 1,0 -7.1,0zM303.2,69.9a3.55,3.55 0 1,0 7.1,0a3.55,3.55 0 1,0 -7.1,0zM304.6,69.8a3.55,3.55 0 1,0 7.1,0a3.55,3.55 0 1,0 -7.1,0zM306.1,69.6a3.55,3.55 0 1,0 7.1,0a3.55,3.55 0 1,0 -7.1,0zM307.6,69.4a3.55,3.55 0 1,0 7.1,0a3.55,3.55 0 1,0 -7.1,0zM309.1,69.3a3.55,3.55 0 1,0 7.1,0a3.55,3.55 0 1,0 -7.1,0zM310.6,69.1a3.55,3.55 0 1,0 7.1,0a3.55,3.55 0 1,0 -7.1,0zM312.1,69.0a3.55,3.55 0 1,0 7.1,0a3.55,3.55 0 1,0 -7.1,0zM313.6,68.9a3.55,3.55 0 1,0 7.1,0a3.55,3.55 0 1,0 -7.1,0zM315.1,68.8a3.55,3.55 0 1,0 7.1,0a3.55,3.55 0 1,0 -7.1,0zM316.6,68.8a3.55,3.55 0 1,0 7.1,0a3.55,3.55 0 1,0 -7.1,0zM318.0,68.7a3.55,3.55 0 1,0 7.1,0a3.55,3.55 0 1,0 -7.1,0zM319.5,68.7a3.55,3.55 0 1,0 7.1,0a3.55,3.55 0 1,0 -7.1,0zM321.0,68.6a3.55,3.55 0 1,0 7.1,0a3.55,3.55 0 1,0 -7.1,0zM322.5,68.5a3.55,3.55 0 1,0 7.1,0a3.55,3.55 0 1,0 -7.1,0zM324.0,68.4a3.55,3.55 0 1,0 7.1,0a3.55,3.55 0 1,0 -7.1,0zM325.5,68.3a3.55,3.55 0 1,0 7.1,0a3.55,3.55 0 1,0 -7.1,0zM327.0,68.2a3.55,3.55 0 1,0 7.1,0a3.55,3.55 0 1,0 -7.1,0zM328.5,68.1a3.55,3.55 0 1,0 7.1,0a3.55,3.55 0 1,0 -7.1,0zM330.0,68.0a3.55,3.55 0 1,0 7.1,0a3.55,3.55 0 1,0 -7.1,0zM331.4,67.9a3.55,3.55 0 1,0 7.1,0a3.55,3.55 0 1,0 -7.1,0zM332.9,67.8a3.55,3.55 0 1,0 7.1,0a3.55,3.55 0 1,0 -7.1,0zM334.4,67.7a3.55,3.55 0 1,0 7.1,0a3.55,3.55 0 1,0 -7.1,0zM335.9,67.6a3.55,3.55 0 1,0 7.1,0a3.55,3.55 0 1,0 -7.1,0zM337.4,67.5a3.55,3.55 0 1,0 7.1,0a3.55,3.55 0 1,0 -7.1,0zM338.9,67.4a3.55,3.55 0 1,0 7.1,0a3.55,3.55 0 1,0 -7.1,0zM340.4,67.3a3.55,3.55 0 1,0 7.1,0a3.55,3.55 0 1,0 -7.1,0zM341.9,67.2a3.55,3.55 0 1,0 7.1,0a3.55,3.55 0 1,0 -7.1,0zM343.4,67.1a3.55,3.55 0 1,0 7.1,0a3.55,3.55 0 1,0 -7.1,0zM344.8,67.0a3.55,3.55 0 1,0 7.1,0a3.55,3.55 0 1,0 -7.1,0zM346.3,66.8a3.55,3.55 0 1,0 7.1,0a3.55,3.55 0 1,0 -7.1,0zM347.8,66.6a3.55,3.55 0 1,0 7.1,0a3.55,3.55 0 1,0 -7.1,0zM349.3,66.5a3.55,3.55 0 1,0 7.1,0a3.55,3.55 0 1,0 -7.1,0zM350.8,66.5a3.55,3.55 0 1,0 7.1,0a3.55,3.55 0 1,0 -7.1,0zM352.3,66.5a3.55,3.55 0 1,0 7.1,0a3.55,3.55 0 1,0 -7.1,0zM353.8,66.6a3.55,3.55 0 1,0 7.1,0a3.55,3.55 0 1,0 -7.1,0zM355.3,66.7a3.55,3.55 0 1,0 7.1,0a3.55,3.55 0 1,0 -7.1,0zM356.8,66.8a3.55,3.55 0 1,0 7.1,0a3.55,3.55 0 1,0 -7.1,0zM358.2,66.9a3.55,3.55 0 1,0 7.1,0a3.55,3.55 0 1,0 -7.1,0zM359.7,67.0a3.55,3.55 0 1,0 7.1,0a3.55,3.55 0 1,0 -7.1,0zM361.2,67.2a3.55,3.55 0 1,0 7.1,0a3.55,3.55 0 1,0 -7.1,0zM362.7,67.4a3.55,3.55 0 1,0 7.1,0a3.55,3.55 0 1,0 -7.1,0zM364.2,67.6a3.55,3.55 0 1,0 7.1,0a3.55,3.55 0 1,0 -7.1,0zM365.7,67.9a3.55,3.55 0 1,0 7.1,0a3.55,3.55 0 1,0 -7.1,0zM367.2,68.1a3.55,3.55 0 1,0 7.1,0a3.55,3.55 0 1,0 -7.1,0zM368.7,68.3a3.55,3.55 0 1,0 7.1,0a3.55,3.55 0 1,0 -7.1,0zM370.2,68.5a3.55,3.55 0 1,0 7.1,0a3.55,3.55 0 1,0 -7.1,0zM371.6,68.8a3.55,3.55 0 1,0 7.1,0a3.55,3.55 0 1,0 -7.1,0zM373.1,69.0a3.55,3.55 0 1,0 7.1,0a3.55,3.55 0 1,0 -7.1,0zM374.6,69.2a3.55,3.55 0 1,0 7.1,0a3.55,3.55 0 1,0 -7.1,0zM376.1,69.3a3.55,3.55 0 1,0 7.1,0a3.55,3.55 0 1,0 -7.1,0zM377.6,69.5a3.55,3.55 0 1,0 7.1,0a3.55,3.55 0 1,0 -7.1,0zM379.1,69.7a3.55,3.55 0 1,0 7.1,0a3.55,3.55 0 1,0 -7.1,0zM380.6,69.8a3.55,3.55 0 1,0 7.1,0a3.55,3.55 0 1,0 -7.1,0zM382.1,70.0a3.55,3.55 0 1,0 7.1,0a3.55,3.55 0 1,0 -7.1,0zM383.6,70.1a3.55,3.55 0 1,0 7.1,0a3.55,3.55 0 1,0 -7.1,0zM385.1,70.3a3.55,3.55 0 1,0 7.1,0a3.55,3.55 0 1,0 -7.1,0zM386.5,70.4a3.55,3.55 0 1,0 7.1,0a3.55,3.55 0 1,0 -7.1,0zM388.0,70.6a3.55,3.55 0 1,0 7.1,0a3.55,3.55 0 1,0 -7.1,0zM389.5,70.7a3.55,3.55 0 1,0 7.1,0a3.55,3.55 0 1,0 -7.1,0zM391.0,70.9a3.55,3.55 0 1,0 7.1,0a3.55,3.55 0 1,0 -7.1,0zM392.5,71.0a3.55,3.55 0 1,0 7.1,0a3.55,3.55 0 1,0 -7.1,0zM394.0,71.1a3.55,3.55 0 1,0 7.1,0a3.55,3.55 0 1,0 -7.1,0zM395.5,71.2a3.55,3.55 0 1,0 7.1,0a3.55,3.55 0 1,0 -7.1,0zM397.0,71.2a3.55,3.55 0 1,0 7.1,0a3.55,3.55 0 1,0 -7.1,0zM398.5,71.3a3.55,3.55 0 1,0 7.1,0a3.55,3.55 0 1,0 -7.1,0zM399.9,71.4a3.55,3.55 0 1,0 7.1,0a3.55,3.55 0 1,0 -7.1,0zM401.4,71.5a3.55,3.55 0 1,0 7.1,0a3.55,3.55 0 1,0 -7.1,0zM402.9,71.5a3.55,3.55 0 1,0 7.1,0a3.55,3.55 0 1,0 -7.1,0zM404.4,71.6a3.55,3.55 0 1,0 7.1,0a3.55,3.55 0 1,0 -7.1,0zM405.9,71.7a3.55,3.55 0 1,0 7.1,0a3.55,3.55 0 1,0 -7.1,0zM407.4,71.8a3.55,3.55 0 1,0 7.1,0a3.55,3.55 0 1,0 -7.1,0zM408.9,71.8a3.55,3.55 0 1,0 7.1,0a3.55,3.55 0 1,0 -7.1,0zM410.4,71.9a3.55,3.55 0 1,0 7.1,0a3.55,3.55 0 1,0 -7.1,0zM411.9,71.9a3.55,3.55 0 1,0 7.1,0a3.55,3.55 0 1,0 -7.1,0zM413.3,72.0a3.55,3.55 0 1,0 7.1,0a3.55,3.55 0 1,0 -7.1,0zM414.8,72.0a3.55,3.55 0 1,0 7.1,0a3.55,3.55 0 1,0 -7.1,0zM416.3,72.1a3.55,3.55 0 1,0 7.1,0a3.55,3.55 0 1,0 -7.1,0zM417.8,72.1a3.55,3.55 0 1,0 7.1,0a3.55,3.55 0 1,0 -7.1,0zM419.3,72.1a3.55,3.55 0 1,0 7.1,0a3.55,3.55 0 1,0 -7.1,0zM420.8,72.2a3.55,3.55 0 1,0 7.1,0a3.55,3.55 0 1,0 -7.1,0zM422.3,72.2a3.55,3.55 0 1,0 7.1,0a3.55,3.55 0 1,0 -7.1,0zM423.8,72.2a3.55,3.55 0 1,0 7.1,0a3.55,3.55 0 1,0 -7.1,0zM425.3,72.3a3.55,3.55 0 1,0 7.1,0a3.55,3.55 0 1,0 -7.1,0zM426.7,72.3a3.55,3.55 0 1,0 7.1,0a3.55,3.55 0 1,0 -7.1,0zM428.2,72.3a3.55,3.55 0 1,0 7.1,0a3.55,3.55 0 1,0 -7.1,0zM429.7,72.3a3.55,3.55 0 1,0 7.1,0a3.55,3.55 0 1,0 -7.1,0zM431.2,72.3a3.55,3.55 0 1,0 7.1,0a3.55,3.55 0 1,0 -7.1,0zM432.7,72.3a3.55,3.55 0 1,0 7.1,0a3.55,3.55 0 1,0 -7.1,0zM434.2,72.3a3.55,3.55 0 1,0 7.1,0a3.55,3.55 0 1,0 -7.1,0zM435.7,72.2a3.55,3.55 0 1,0 7.1,0a3.55,3.55 0 1,0 -7.1,0zM437.2,72.2a3.55,3.55 0 1,0 7.1,0a3.55,3.55 0 1,0 -7.1,0zM438.7,72.2a3.55,3.55 0 1,0 7.1,0a3.55,3.55 0 1,0 -7.1,0zM440.1,72.1a3.55,3.55 0 1,0 7.1,0a3.55,3.55 0 1,0 -7.1,0zM441.6,72.1a3.55,3.55 0 1,0 7.1,0a3.55,3.55 0 1,0 -7.1,0zM443.1,72.1a3.55,3.55 0 1,0 7.1,0a3.55,3.55 0 1,0 -7.1,0zM444.6,72.0a3.55,3.55 0 1,0 7.1,0a3.55,3.55 0 1,0 -7.1,0zM446.1,72.0a3.55,3.55 0 1,0 7.1,0a3.55,3.55 0 1,0 -7.1,0zM447.6,72.0a3.55,3.55 0 1,0 7.1,0a3.55,3.55 0 1,0 -7.1,0zM449.1,72.0a3.55,3.55 0 1,0 7.1,0a3.55,3.55 0 1,0 -7.1,0zM450.6,72.0a3.55,3.55 0 1,0 7.1,0a3.55,3.55 0 1,0 -7.1,0zM452.1,72.0a3.55,3.55 0 1,0 7.1,0a3.55,3.55 0 1,0 -7.1,0zM453.5,72.0a3.55,3.55 0 1,0 7.1,0a3.55,3.55 0 1,0 -7.1,0zM455.0,72.0a3.55,3.55 0 1,0 7.1,0a3.55,3.55 0 1,0 -7.1,0zM456.5,72.0a3.55,3.55 0 1,0 7.1,0a3.55,3.55 0 1,0 -7.1,0zM458.0,72.0a3.55,3.55 0 1,0 7.1,0a3.55,3.55 0 1,0 -7.1,0zM459.5,72.0a3.55,3.55 0 1,0 7.1,0a3.55,3.55 0 1,0 -7.1,0zM461.0,72.0a3.55,3.55 0 1,0 7.1,0a3.55,3.55 0 1,0 -7.1,0zM462.5,72.0a3.55,3.55 0 1,0 7.1,0a3.55,3.55 0 1,0 -7.1,0zM464.0,72.0a3.55,3.55 0 1,0 7.1,0a3.55,3.55 0 1,0 -7.1,0zM465.5,72.0a3.55,3.55 0 1,0 7.1,0a3.55,3.55 0 1,0 -7.1,0zM466.9,72.0a3.55,3.55 0 1,0 7.1,0a3.55,3.55 0 1,0 -7.1,0zM468.4,72.0a3.55,3.55 0 1,0 7.1,0a3.55,3.55 0 1,0 -7.1,0zM469.9,72.0a3.55,3.55 0 1,0 7.1,0a3.55,3.55 0 1,0 -7.1,0zM471.4,72.0a3.55,3.55 0 1,0 7.1,0a3.55,3.55 0 1,0 -7.1,0zM472.9,72.0a3.55,3.55 0 1,0 7.1,0a3.55,3.55 0 1,0 -7.1,0zM474.4,72.0a3.55,3.55 0 1,0 7.1,0a3.55,3.55 0 1,0 -7.1,0zM475.9,72.0a3.55,3.55 0 1,0 7.1,0a3.55,3.55 0 1,0 -7.1,0zM477.4,72.0a3.55,3.55 0 1,0 7.1,0a3.55,3.55 0 1,0 -7.1,0zM478.9,72.0a3.55,3.55 0 1,0 7.1,0a3.55,3.55 0 1,0 -7.1,0zM480.3,72.0a3.55,3.55 0 1,0 7.1,0a3.55,3.55 0 1,0 -7.1,0zM481.8,72.0a3.55,3.55 0 1,0 7.1,0a3.55,3.55 0 1,0 -7.1,0zM483.3,72.0a3.55,3.55 0 1,0 7.1,0a3.55,3.55 0 1,0 -7.1,0zM484.8,72.0a3.55,3.55 0 1,0 7.1,0a3.55,3.55 0 1,0 -7.1,0zM486.3,72.0a3.55,3.55 0 1,0 7.1,0a3.55,3.55 0 1,0 -7.1,0zM487.8,72.1a3.55,3.55 0 1,0 7.1,0a3.55,3.55 0 1,0 -7.1,0zM489.3,72.1a3.55,3.55 0 1,0 7.1,0a3.55,3.55 0 1,0 -7.1,0zM490.8,72.1a3.55,3.55 0 1,0 7.1,0a3.55,3.55 0 1,0 -7.1,0zM492.3,72.1a3.55,3.55 0 1,0 7.1,0a3.55,3.55 0 1,0 -7.1,0zM493.7,72.1a3.55,3.55 0 1,0 7.1,0a3.55,3.55 0 1,0 -7.1,0zM495.2,72.1a3.55,3.55 0 1,0 7.1,0a3.55,3.55 0 1,0 -7.1,0zM496.7,72.1a3.55,3.55 0 1,0 7.1,0a3.55,3.55 0 1,0 -7.1,0zM498.2,72.2a3.55,3.55 0 1,0 7.1,0a3.55,3.55 0 1,0 -7.1,0zM499.7,72.2a3.55,3.55 0 1,0 7.1,0a3.55,3.55 0 1,0 -7.1,0zM501.2,72.2a3.55,3.55 0 1,0 7.1,0a3.55,3.55 0 1,0 -7.1,0zM502.7,72.2a3.55,3.55 0 1,0 7.1,0a3.55,3.55 0 1,0 -7.1,0zM504.2,72.2a3.55,3.55 0 1,0 7.1,0a3.55,3.55 0 1,0 -7.1,0zM505.7,72.2a3.55,3.55 0 1,0 7.1,0a3.55,3.55 0 1,0 -7.1,0zM507.1,72.2a3.55,3.55 0 1,0 7.1,0a3.55,3.55 0 1,0 -7.1,0zM508.6,72.2a3.55,3.55 0 1,0 7.1,0a3.55,3.55 0 1,0 -7.1,0zM510.1,72.2a3.55,3.55 0 1,0 7.1,0a3.55,3.55 0 1,0 -7.1,0zM511.6,72.2a3.55,3.55 0 1,0 7.1,0a3.55,3.55 0 1,0 -7.1,0zM513.1,72.2a3.55,3.55 0 1,0 7.1,0a3.55,3.55 0 1,0 -7.1,0zM514.6,72.1a3.55,3.55 0 1,0 7.1,0a3.55,3.55 0 1,0 -7.1,0zM516.1,72.0a3.55,3.55 0 1,0 7.1,0a3.55,3.55 0 1,0 -7.1,0zM517.6,71.9a3.55,3.55 0 1,0 7.1,0a3.55,3.55 0 1,0 -7.1,0zM519.1,71.8a3.55,3.55 0 1,0 7.1,0a3.55,3.55 0 1,0 -7.1,0zM520.5,71.8a3.55,3.55 0 1,0 7.1,0a3.55,3.55 0 1,0 -7.1,0zM522.0,71.7a3.55,3.55 0 1,0 7.1,0a3.55,3.55 0 1,0 -7.1,0zM523.5,71.6a3.55,3.55 0 1,0 7.1,0a3.55,3.55 0 1,0 -7.1,0zM525.0,71.5a3.55,3.55 0 1,0 7.1,0a3.55,3.55 0 1,0 -7.1,0zM526.5,71.4a3.55,3.55 0 1,0 7.1,0a3.55,3.55 0 1,0 -7.1,0zM528.0,71.4a3.55,3.55 0 1,0 7.1,0a3.55,3.55 0 1,0 -7.1,0zM529.5,71.3a3.55,3.55 0 1,0 7.1,0a3.55,3.55 0 1,0 -7.1,0zM531.0,71.2a3.55,3.55 0 1,0 7.1,0a3.55,3.55 0 1,0 -7.1,0zM532.5,71.1a3.55,3.55 0 1,0 7.1,0a3.55,3.55 0 1,0 -7.1,0zM534.0,71.0a3.55,3.55 0 1,0 7.1,0a3.55,3.55 0 1,0 -7.1,0zM535.4,70.9a3.55,3.55 0 1,0 7.1,0a3.55,3.55 0 1,0 -7.1,0zM536.9,70.8a3.55,3.55 0 1,0 7.1,0a3.55,3.55 0 1,0 -7.1,0zM538.4,70.8a3.55,3.55 0 1,0 7.1,0a3.55,3.55 0 1,0 -7.1,0zM539.9,70.7a3.55,3.55 0 1,0 7.1,0a3.55,3.55 0 1,0 -7.1,0zM541.4,70.6a3.55,3.55 0 1,0 7.1,0a3.55,3.55 0 1,0 -7.1,0zM542.9,70.5a3.55,3.55 0 1,0 7.1,0a3.55,3.55 0 1,0 -7.1,0zM544.4,70.3a3.55,3.55 0 1,0 7.1,0a3.55,3.55 0 1,0 -7.1,0zM545.9,70.2a3.55,3.55 0 1,0 7.1,0a3.55,3.55 0 1,0 -7.1,0zM547.4,70.1a3.55,3.55 0 1,0 7.1,0a3.55,3.55 0 1,0 -7.1,0zM548.8,70.0a3.55,3.55 0 1,0 7.1,0a3.55,3.55 0 1,0 -7.1,0zM550.3,69.9a3.55,3.55 0 1,0 7.1,0a3.55,3.55 0 1,0 -7.1,0zM551.8,69.7a3.55,3.55 0 1,0 7.1,0a3.55,3.55 0 1,0 -7.1,0zM553.3,69.6a3.55,3.55 0 1,0 7.1,0a3.55,3.55 0 1,0 -7.1,0zM554.8,69.5a3.55,3.55 0 1,0 7.1,0a3.55,3.55 0 1,0 -7.1,0zM556.3,69.4a3.55,3.55 0 1,0 7.1,0a3.55,3.55 0 1,0 -7.1,0zM557.8,69.3a3.55,3.55 0 1,0 7.1,0a3.55,3.55 0 1,0 -7.1,0zM559.3,69.2a3.55,3.55 0 1,0 7.1,0a3.55,3.55 0 1,0 -7.1,0zM560.8,69.1a3.55,3.55 0 1,0 7.1,0a3.55,3.55 0 1,0 -7.1,0zM562.2,69.1a3.55,3.55 0 1,0 7.1,0a3.55,3.55 0 1,0 -7.1,0zM563.7,69.0a3.55,3.55 0 1,0 7.1,0a3.55,3.55 0 1,0 -7.1,0zM565.2,68.9a3.55,3.55 0 1,0 7.1,0a3.55,3.55 0 1,0 -7.1,0zM566.7,68.9a3.55,3.55 0 1,0 7.1,0a3.55,3.55 0 1,0 -7.1,0zM568.2,68.8a3.55,3.55 0 1,0 7.1,0a3.55,3.55 0 1,0 -7.1,0zM569.7,68.8a3.55,3.55 0 1,0 7.1,0a3.55,3.55 0 1,0 -7.1,0zM571.2,68.8a3.55,3.55 0 1,0 7.1,0a3.55,3.55 0 1,0 -7.1,0zM572.7,68.7a3.55,3.55 0 1,0 7.1,0a3.55,3.55 0 1,0 -7.1,0zM574.2,68.7a3.55,3.55 0 1,0 7.1,0a3.55,3.55 0 1,0 -7.1,0zM575.6,68.7a3.55,3.55 0 1,0 7.1,0a3.55,3.55 0 1,0 -7.1,0zM577.1,68.6a3.55,3.55 0 1,0 7.1,0a3.55,3.55 0 1,0 -7.1,0zM578.6,68.6a3.55,3.55 0 1,0 7.1,0a3.55,3.55 0 1,0 -7.1,0zM580.1,68.6a3.55,3.55 0 1,0 7.1,0a3.55,3.55 0 1,0 -7.1,0zM581.6,68.5a3.55,3.55 0 1,0 7.1,0a3.55,3.55 0 1,0 -7.1,0zM583.1,68.5a3.55,3.55 0 1,0 7.1,0a3.55,3.55 0 1,0 -7.1,0zM584.6,68.5a3.55,3.55 0 1,0 7.1,0a3.55,3.55 0 1,0 -7.1,0zM586.1,68.4a3.55,3.55 0 1,0 7.1,0a3.55,3.55 0 1,0 -7.1,0zM587.6,68.4a3.55,3.55 0 1,0 7.1,0a3.55,3.55 0 1,0 -7.1,0zM589.0,68.4a3.55,3.55 0 1,0 7.1,0a3.55,3.55 0 1,0 -7.1,0zM590.5,68.3a3.55,3.55 0 1,0 7.1,0a3.55,3.55 0 1,0 -7.1,0zM592.0,68.3a3.55,3.55 0 1,0 7.1,0a3.55,3.55 0 1,0 -7.1,0zM593.5,68.3a3.55,3.55 0 1,0 7.1,0a3.55,3.55 0 1,0 -7.1,0zM595.0,68.2a3.55,3.55 0 1,0 7.1,0a3.55,3.55 0 1,0 -7.1,0zM596.5,68.2a3.55,3.55 0 1,0 7.1,0a3.55,3.55 0 1,0 -7.1,0zM598.0,68.1a3.55,3.55 0 1,0 7.1,0a3.55,3.55 0 1,0 -7.1,0zM599.5,68.1a3.55,3.55 0 1,0 7.1,0a3.55,3.55 0 1,0 -7.1,0zM601.0,68.0a3.55,3.55 0 1,0 7.1,0a3.55,3.55 0 1,0 -7.1,0zM602.4,67.9a3.55,3.55 0 1,0 7.1,0a3.55,3.55 0 1,0 -7.1,0zM603.9,67.9a3.55,3.55 0 1,0 7.1,0a3.55,3.55 0 1,0 -7.1,0zM605.4,67.8a3.55,3.55 0 1,0 7.1,0a3.55,3.55 0 1,0 -7.1,0zM606.9,67.7a3.55,3.55 0 1,0 7.1,0a3.55,3.55 0 1,0 -7.1,0zM608.4,67.7a3.55,3.55 0 1,0 7.1,0a3.55,3.55 0 1,0 -7.1,0zM609.9,67.6a3.55,3.55 0 1,0 7.1,0a3.55,3.55 0 1,0 -7.1,0zM611.4,67.5a3.55,3.55 0 1,0 7.1,0a3.55,3.55 0 1,0 -7.1,0zM612.9,67.4a3.55,3.55 0 1,0 7.1,0a3.55,3.55 0 1,0 -7.1,0zM614.4,67.3a3.55,3.55 0 1,0 7.1,0a3.55,3.55 0 1,0 -7.1,0zM615.8,67.2a3.55,3.55 0 1,0 7.1,0a3.55,3.55 0 1,0 -7.1,0zM617.3,67.1a3.55,3.55 0 1,0 7.1,0a3.55,3.55 0 1,0 -7.1,0zM618.8,67.0a3.55,3.55 0 1,0 7.1,0a3.55,3.55 0 1,0 -7.1,0zM620.3,66.8a3.55,3.55 0 1,0 7.1,0a3.55,3.55 0 1,0 -7.1,0zM621.8,66.7a3.55,3.55 0 1,0 7.1,0a3.55,3.55 0 1,0 -7.1,0zM623.3,66.5a3.55,3.55 0 1,0 7.1,0a3.55,3.55 0 1,0 -7.1,0zM624.8,66.3a3.55,3.55 0 1,0 7.1,0a3.55,3.55 0 1,0 -7.1,0zM626.3,66.1a3.55,3.55 0 1,0 7.1,0a3.55,3.55 0 1,0 -7.1,0zM627.8,65.9a3.55,3.55 0 1,0 7.1,0a3.55,3.55 0 1,0 -7.1,0zM629.2,65.7a3.55,3.55 0 1,0 7.1,0a3.55,3.55 0 1,0 -7.1,0zM630.7,65.4a3.55,3.55 0 1,0 7.1,0a3.55,3.55 0 1,0 -7.1,0zM632.2,65.2a3.55,3.55 0 1,0 7.1,0a3.55,3.55 0 1,0 -7.1,0zM633.7,64.9a3.55,3.55 0 1,0 7.1,0a3.55,3.55 0 1,0 -7.1,0zM635.2,64.7a3.55,3.55 0 1,0 7.1,0a3.55,3.55 0 1,0 -7.1,0zM636.7,64.4a3.55,3.55 0 1,0 7.1,0a3.55,3.55 0 1,0 -7.1,0zM638.2,64.1a3.55,3.55 0 1,0 7.1,0a3.55,3.55 0 1,0 -7.1,0zM639.7,63.8a3.55,3.55 0 1,0 7.1,0a3.55,3.55 0 1,0 -7.1,0zM641.2,63.5a3.55,3.55 0 1,0 7.1,0a3.55,3.55 0 1,0 -7.1,0zM642.6,63.2a3.55,3.55 0 1,0 7.1,0a3.55,3.55 0 1,0 -7.1,0zM644.1,63.0a3.55,3.55 0 1,0 7.1,0a3.55,3.55 0 1,0 -7.1,0zM645.6,62.8a3.55,3.55 0 1,0 7.1,0a3.55,3.55 0 1,0 -7.1,0zM647.1,62.6a3.55,3.55 0 1,0 7.1,0a3.55,3.55 0 1,0 -7.1,0zM648.6,62.4a3.55,3.55 0 1,0 7.1,0a3.55,3.55 0 1,0 -7.1,0zM650.1,62.3a3.55,3.55 0 1,0 7.1,0a3.55,3.55 0 1,0 -7.1,0zM651.6,62.1a3.55,3.55 0 1,0 7.1,0a3.55,3.55 0 1,0 -7.1,0zM653.1,62.0a3.55,3.55 0 1,0 7.1,0a3.55,3.55 0 1,0 -7.1,0zM654.6,61.9a3.55,3.55 0 1,0 7.1,0a3.55,3.55 0 1,0 -7.1,0zM656.0,61.8a3.55,3.55 0 1,0 7.1,0a3.55,3.55 0 1,0 -7.1,0zM657.5,61.8a3.55,3.55 0 1,0 7.1,0a3.55,3.55 0 1,0 -7.1,0zM659.0,61.7a3.55,3.55 0 1,0 7.1,0a3.55,3.55 0 1,0 -7.1,0zM660.5,61.6a3.55,3.55 0 1,0 7.1,0a3.55,3.55 0 1,0 -7.1,0zM662.0,61.5a3.55,3.55 0 1,0 7.1,0a3.55,3.55 0 1,0 -7.1,0zM663.5,61.5a3.55,3.55 0 1,0 7.1,0a3.55,3.55 0 1,0 -7.1,0zM665.0,61.4a3.55,3.55 0 1,0 7.1,0a3.55,3.55 0 1,0 -7.1,0zM666.5,61.4a3.55,3.55 0 1,0 7.1,0a3.55,3.55 0 1,0 -7.1,0zM668.0,61.3a3.55,3.55 0 1,0 7.1,0a3.55,3.55 0 1,0 -7.1,0zM669.4,61.3a3.55,3.55 0 1,0 7.1,0a3.55,3.55 0 1,0 -7.1,0zM670.9,61.3a3.55,3.55 0 1,0 7.1,0a3.55,3.55 0 1,0 -7.1,0zM672.4,61.3a3.55,3.55 0 1,0 7.1,0a3.55,3.55 0 1,0 -7.1,0zM673.9,61.3a3.55,3.55 0 1,0 7.1,0a3.55,3.55 0 1,0 -7.1,0zM675.4,61.3a3.55,3.55 0 1,0 7.1,0a3.55,3.55 0 1,0 -7.1,0zM676.9,61.3a3.55,3.55 0 1,0 7.1,0a3.55,3.55 0 1,0 -7.1,0zM678.4,61.3a3.55,3.55 0 1,0 7.1,0a3.55,3.55 0 1,0 -7.1,0zM679.9,61.3a3.55,3.55 0 1,0 7.1,0a3.55,3.55 0 1,0 -7.1,0zM681.4,61.3a3.55,3.55 0 1,0 7.1,0a3.55,3.55 0 1,0 -7.1,0zM682.9,61.3a3.55,3.55 0 1,0 7.1,0a3.55,3.55 0 1,0 -7.1,0z" fill="#d7141a"/>
<path d="M90,82.3 L96.2,82.7" fill="none" stroke="#d7141a" stroke-width="5" stroke-linecap="round"/>
</g>
<g stroke="#111" stroke-width="0.12">
<text transform="translate(82.3,24.3) scale(0.965,1)" font-size="29" text-anchor="end"><tspan dy="-0.2">–</tspan><tspan dy="0.2">2</tspan></text>
<text transform="translate(82.3,68.6) scale(0.965,1)" font-size="29" text-anchor="end"><tspan dy="-0.2">–</tspan><tspan dy="0.2">4</tspan></text>
<text transform="translate(82.3,113.0) scale(0.965,1)" font-size="29" text-anchor="end"><tspan dy="-0.2">–</tspan><tspan dy="0.2">6</tspan></text>
<text transform="translate(82.3,157.3) scale(0.965,1)" font-size="29" text-anchor="end"><tspan dy="-0.2">–</tspan><tspan dy="0.2">8</tspan></text>
<text transform="translate(82.3,201.6) scale(0.965,1)" font-size="29" text-anchor="end"><tspan dy="-0.2">–</tspan><tspan dy="0.2">10</tspan></text>
<text transform="translate(82.3,246.0) scale(0.965,1)" font-size="29" text-anchor="end"><tspan dy="-0.2">–</tspan><tspan dy="0.2">12</tspan></text>
<text transform="translate(82.3,290.3) scale(0.965,1)" font-size="29" text-anchor="end"><tspan dy="-0.2">–</tspan><tspan dy="0.2">14</tspan></text>
<text transform="translate(82.3,334.6) scale(0.965,1)" font-size="29" text-anchor="end"><tspan dy="-0.2">–</tspan><tspan dy="0.2">16</tspan></text>
<text transform="translate(82.3,378.9) scale(0.965,1)" font-size="29" text-anchor="end"><tspan dy="-0.2">–</tspan><tspan dy="0.2">18</tspan></text>
<text transform="translate(82.3,423.3) scale(0.965,1)" font-size="29" text-anchor="end"><tspan dy="-0.2">–</tspan><tspan dy="0.2">20</tspan></text>
<text transform="translate(82.3,467.6) scale(0.965,1)" font-size="29" text-anchor="end"><tspan dy="-0.2">–</tspan><tspan dy="0.2">22</tspan></text>
<text transform="translate(87.7,486.6) scale(0.965,1)" font-size="29" text-anchor="middle">2</text>
<text transform="translate(124.9,486.6) scale(0.965,1)" font-size="29" text-anchor="middle">3</text>
<text transform="translate(162.2,486.6) scale(0.965,1)" font-size="29" text-anchor="middle">4</text>
<text transform="translate(199.4,486.6) scale(0.965,1)" font-size="29" text-anchor="middle">5</text>
<text transform="translate(236.6,486.6) scale(0.965,1)" font-size="29" text-anchor="middle">6</text>
<text transform="translate(273.8,486.6) scale(0.965,1)" font-size="29" text-anchor="middle">7</text>
<text transform="translate(311.1,486.6) scale(0.965,1)" font-size="29" text-anchor="middle">8</text>
<text transform="translate(348.3,486.6) scale(0.965,1)" font-size="29" text-anchor="middle">9</text>
<text transform="translate(388.2,486.6) scale(0.925,1)" font-size="29" text-anchor="middle"><tspan letter-spacing="-0.7">10</tspan></text>
<text transform="translate(425.4,486.6) scale(0.925,1)" font-size="29" text-anchor="middle"><tspan letter-spacing="-0.7">11</tspan></text>
<text transform="translate(462.7,486.6) scale(0.925,1)" font-size="29" text-anchor="middle"><tspan letter-spacing="-0.7">12</tspan></text>
<text transform="translate(499.9,486.6) scale(0.925,1)" font-size="29" text-anchor="middle"><tspan letter-spacing="-0.7">13</tspan></text>
<text transform="translate(537.1,486.6) scale(0.925,1)" font-size="29" text-anchor="middle"><tspan letter-spacing="-0.7">14</tspan></text>
<text transform="translate(574.3,486.6) scale(0.925,1)" font-size="29" text-anchor="middle"><tspan letter-spacing="-0.7">15</tspan></text>
<text transform="translate(611.5,486.6) scale(0.925,1)" font-size="29" text-anchor="middle"><tspan letter-spacing="-0.7">16</tspan></text>
<text transform="translate(648.8,486.6) scale(0.925,1)" font-size="29" text-anchor="middle"><tspan letter-spacing="-0.7">17</tspan></text>
<text transform="translate(673.0,486.6) scale(0.925,1)" font-size="29"><tspan letter-spacing="-0.8">18</tspan></text>
<text transform="translate(376.7,518.8) scale(0.968,1)" font-size="28.6" text-anchor="middle">Frequency / GHz</text>
<text transform="translate(23.1,254.0) rotate(-90) scale(0.967,1)" font-size="28.6" text-anchor="middle">Reflection loss / dB</text>
<text transform="translate(151.9,106.2) scale(0.925,1)" font-size="30.5">CIP</text>
<text transform="translate(215.0,177.4) scale(0.915,1)" font-size="30.5">CIP/Al<tspan font-size="17.5" dy="7">2</tspan><tspan dy="-7">O</tspan><tspan font-size="17.5" dy="7">3</tspan></text>
</g>
</svg>
</body></html>
